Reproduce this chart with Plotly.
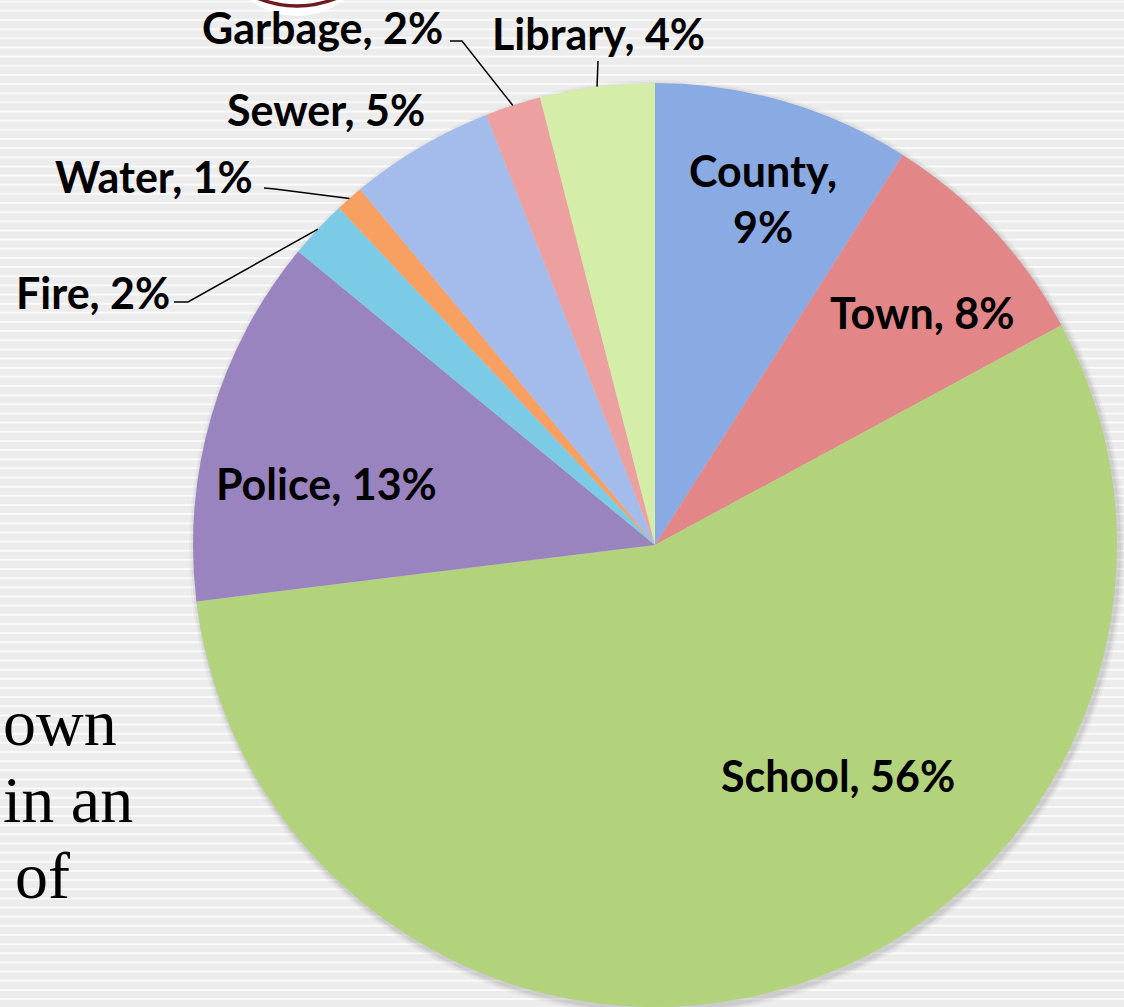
import math
import plotly.graph_objects as go

# ---------------- data ----------------
categories = ["County", "Town", "School", "Police", "Fire", "Water", "Sewer", "Garbage", "Library"]
shares = [9.0, 8.1, 55.9, 12.9, 2.05, 0.97, 5.06, 1.95, 4.0]
slice_colors = ["#8aaae4", "#e38687", "#b2d37c", "#9a84c0", "#7ccbe6",
                "#f8a061", "#a4bcec", "#eca1a0", "#d4eda8"]

# ---------------- layout constants (pixels) ----------------
W, H = 1124, 1007
CX, CY, R = 655, 545, 462          # pie centre / radius in pixels


def px(x):
    return x / W


def py(y):
    return 1 - y / H


total = sum(shares)
pcts = [round(v / total * 100) for v in shares]
label_text = {c: f"{c}, {p}%" for c, p in zip(categories, pcts)}
label_text["County"] = f"County,<br>{pcts[0]}%"

# mid angle of every slice (clockwise from 12 o'clock)
mid_angle = {}
acc = 0.0
for c, v in zip(categories, shares):
    mid_angle[c] = 360 * (acc + v / 2 / total)
    acc += v / total


def arc_point(cat, rf=1.0):
    a = math.radians(mid_angle[cat])
    return CX + R * rf * math.sin(a), CY - R * rf * math.cos(a)


fig = go.Figure()
fig.add_trace(go.Pie(
    labels=categories,
    values=shares,
    sort=False,
    direction="clockwise",
    rotation=0,
    marker=dict(colors=slice_colors, line=dict(width=0)),
    textinfo="none",
    hoverinfo="label+percent",
    showlegend=False,
    domain=dict(x=[px(CX - R), px(CX + R)], y=[py(CY + R), py(CY - R)]),
))

shapes = []
# striped background
y = 1.7
while y < H + 5:
    shapes.append(dict(type="line", xref="paper", yref="paper", layer="below",
                       x0=0, x1=1, y0=py(y), y1=py(y),
                       line=dict(color="#fafafa", width=2)))
    y += 9.15

# soft shadow behind the pie
for off, alpha in [(6, 0.05), (4, 0.07), (2, 0.10)]:
    shapes.append(dict(type="circle", xref="paper", yref="paper", layer="below",
                       x0=px(CX - R - off + 2), x1=px(CX + R + off + 2),
                       y0=py(CY + R + off + 3), y1=py(CY - R - off + 3),
                       fillcolor=f"rgba(90,90,90,{alpha})", line=dict(width=0)))

# logo remnant at top
shapes.append(dict(type="circle", xref="paper", yref="paper", layer="below",
                   x0=px(297 - 76), x1=px(297 + 76), y0=py(-60 + 76), y1=py(-60 - 76),
                   fillcolor="#ffffff", line=dict(width=0)))
shapes.append(dict(type="circle", xref="paper", yref="paper", layer="below",
                   x0=px(297 - 104), x1=px(297 + 104), y0=py(-98 + 104), y1=py(-98 - 104),
                   fillcolor="rgba(0,0,0,0)", line=dict(color="#6e1a1f", width=3.5)))

# leader lines (start at slice edge, elbow positions are label layout)
leader_elbows = {
    "Garbage": [(462, 41), (450, 41)],
    "Library": [(598, 61)],
    "Water": [(275, 189), (264, 188)],
    "Fire": [(188, 302), (174, 302)],
}
for cat, pts in leader_elbows.items():
    sx, sy = arc_point(cat, 1.0)
    seq = [(sx, sy)] + pts
    path = "M " + " L ".join(f"{px(a):.5f},{py(b):.5f}" for a, b in seq)
    shapes.append(dict(type="path", xref="paper", yref="paper", layer="above",
                       path=path, line=dict(color="#000000", width=1.5)))

# label positions (text centres, px)
label_pos = {
    "Garbage": (322, 28),
    "Library": (598, 33),
    "Sewer": (326, 109),
    "Water": (154, 176),
    "Fire": (93, 292),
    "County": (763, 198),
    "Town": (922, 312),
    "Police": (326, 483),
    "School": (838, 775),
}
annotations = []
for cat in categories:
    x, yv = label_pos[cat]
    annotations.append(dict(
        x=px(x), y=py(yv), xref="paper", yref="paper",
        text=f"<b>{label_text[cat]}</b>", showarrow=False,
        xanchor="center", yanchor="middle",
        font=dict(family="Lato", size=43, color="#000000"),
    ))

# slide body text peeking from the left
side_text = [("own", 1, "left", 722), ("in an", 1, "left", 799), ("of", 72, "right", 875)]
for t, xa, anch, yc in side_text:
    annotations.append(dict(
        x=px(xa), y=py(yc), xref="paper", yref="paper", text=t, showarrow=False,
        xanchor=anch, yanchor="middle",
        font=dict(family="Liberation Serif", size=66, color="#000000"),
    ))

fig.update_layout(
    width=W, height=H,
    margin=dict(l=0, r=0, t=0, b=0),
    paper_bgcolor="#ececec",
    plot_bgcolor="#ececec",
    shapes=shapes,
    annotations=annotations,
    showlegend=False,
)

fig.write_html(
    "out.html",
    config={"displayModeBar": False},
    post_script="document.body.style.margin='0';document.body.style.overflow='hidden';",
)
